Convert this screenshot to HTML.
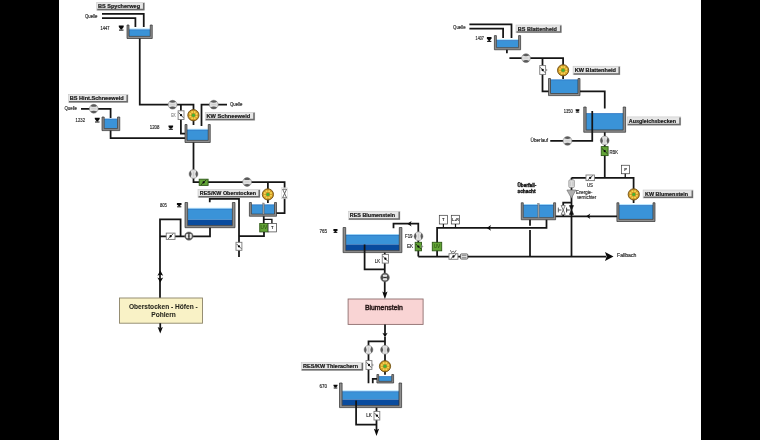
<!DOCTYPE html>
<html><head><meta charset="utf-8"><style>
html,body{margin:0;padding:0;background:#000;}
body{width:760px;height:440px;overflow:hidden;position:relative;}
#pg{position:absolute;left:59px;top:0;width:642px;height:440px;background:#fff;}
svg{position:absolute;left:0;top:0;will-change:transform;}
text{font-family:"Liberation Sans",sans-serif;}
</style></head><body>
<div id="pg"></div>
<svg width="760" height="440" viewBox="0 0 760 440">
<rect x="96.7" y="2.4" width="47.8" height="8.0" fill="#e6e6e6" stroke="#c8c8c8" stroke-width="0.6"/>
<path d="M97.2,9.6 H143.7 V2.9" fill="none" stroke="#6a6a6a" stroke-width="1.5"/>
<text x="97.9" y="8.30" font-size="5.7" font-weight="bold" fill="#1a1a1a" stroke="#1a1a1a" stroke-width="0.22" textLength="42.20" lengthAdjust="spacingAndGlyphs">BS Spycherweg</text>
<text x="85" y="18.1" font-size="5.0" font-weight="normal" fill="#222" stroke="#222" stroke-width="0.15" textLength="12.50" lengthAdjust="spacingAndGlyphs">Quelle</text>
<path d="M102,13.75 H143.75 V27" fill="none" stroke="#151515" stroke-width="1.75" stroke-linejoin="miter" stroke-linecap="butt"/>
<path d="M102,18.1 H135.4 V27" fill="none" stroke="#151515" stroke-width="1.75" stroke-linejoin="miter" stroke-linecap="butt"/>
<text x="100.6" y="30.0" font-size="4.8" font-weight="normal" fill="#222" stroke="#222" stroke-width="0.15" textLength="8.80" lengthAdjust="spacingAndGlyphs">1447</text>
<path d="M118.8,25.6 H123.7 V26.900000000000002 L121.75,29.6 H120.75 L118.8,26.900000000000002 Z" fill="#0a0a0a"/>
<rect x="119.0" y="29.6" width="4.500000000000005" height="1.0" fill="#0a0a0a"/>
<rect x="129.0" y="29.5" width="21.25" height="6.899999999999999" fill="#3a93d8"/>
<rect x="129.0" y="28.5" width="21.25" height="1.0" fill="#a8e2ff"/>
<path d="M129.0,29.8 H150.25" stroke="#2a6cbc" stroke-width="0.6"/>
<path d="M127,25 H129.0 V36.4 H150.25 V25 H152.25 V38.5 H127 Z" fill="#8e8e8e" stroke="#2e2e2e" stroke-width="0.7"/>
<path d="M139.75,38.5 V104.6 H193.5 V125" fill="none" stroke="#151515" stroke-width="1.75" stroke-linejoin="miter" stroke-linecap="butt"/>
<rect x="68.5" y="94.4" width="59.5" height="8.099999999999994" fill="#e6e6e6" stroke="#c8c8c8" stroke-width="0.6"/>
<path d="M69.0,101.7 H127.2 V94.9" fill="none" stroke="#6a6a6a" stroke-width="1.5"/>
<text x="69.75" y="100.30" font-size="5.7" font-weight="bold" fill="#1a1a1a" stroke="#1a1a1a" stroke-width="0.22" textLength="54.00" lengthAdjust="spacingAndGlyphs">BS Hint.Schneeweid</text>
<text x="64.4" y="109.6" font-size="5.0" font-weight="normal" fill="#222" stroke="#222" stroke-width="0.15" textLength="12.60" lengthAdjust="spacingAndGlyphs">Quelle</text>
<path d="M81,108.75 H110.6 V118" fill="none" stroke="#151515" stroke-width="1.75" stroke-linejoin="miter" stroke-linecap="butt"/>
<circle cx="93.75" cy="108.75" r="4.4" fill="#e0e0e0" stroke="#8a8a8a" stroke-width="0.6"/>
<path d="M90.38,105.92 A4.4,4.4 0 0 1 97.12,105.92 Q93.75,107.78 90.38,105.92 Z" fill="#5a5a5a"/>
<path d="M90.38,111.58 A4.4,4.4 0 0 0 97.12,111.58 Q93.75,109.72 90.38,111.58 Z" fill="#5a5a5a"/>
<path d="M91.33,108.75 H96.17" stroke="#bdbdbd" stroke-width="0.6"/>
<text x="75.6" y="121.5" font-size="4.8" font-weight="normal" fill="#262626" stroke="#262626" stroke-width="0.15" textLength="9.40" lengthAdjust="spacingAndGlyphs">1232</text>
<path d="M94.8,117.8 H99.7 V119.1 L97.75,121.5 H96.75 L94.8,119.1 Z" fill="#0a0a0a"/>
<rect x="95.0" y="121.5" width="4.500000000000005" height="1.0" fill="#0a0a0a"/>
<rect x="104.2" y="118.8" width="13.349999999999994" height="9.799999999999997" fill="#3a93d8"/>
<path d="M104.2,119.1 H117.55" stroke="#2a6cbc" stroke-width="0.6"/>
<path d="M102,117 H104.2 V128.6 H117.55 V117 H119.75 V130.6 H102 Z" fill="#8e8e8e" stroke="#2e2e2e" stroke-width="0.7"/>
<path d="M110.6,130.6 V138 H185.5" fill="none" stroke="#151515" stroke-width="1.75" stroke-linejoin="miter" stroke-linecap="butt"/>
<path d="M180.9,104.6 V133.6 H186" fill="none" stroke="#151515" stroke-width="1.75" stroke-linejoin="miter" stroke-linecap="butt"/>
<rect x="178.1" y="110.8" width="5.900000000000006" height="8.700000000000003" fill="#ffffff" stroke="#7a7a7a" stroke-width="0.9"/>
<path d="M178.7,112.53999999999999 L183.4,117.76" stroke="#111" stroke-width="0.7"/>
<circle cx="181.05" cy="115.15" r="1.15" fill="#0a0a0a"/>
<text x="171.3" y="117.0" font-size="4.8" font-weight="normal" fill="#808080" stroke="#808080" stroke-width="0.15" textLength="4.30" lengthAdjust="spacingAndGlyphs">EK</text>
<circle cx="172.6" cy="104.7" r="4.4" fill="#e0e0e0" stroke="#8a8a8a" stroke-width="0.6"/>
<path d="M169.23,101.87 A4.4,4.4 0 0 1 175.97,101.87 Q172.6,103.73 169.23,101.87 Z" fill="#5a5a5a"/>
<path d="M169.23,107.53 A4.4,4.4 0 0 0 175.97,107.53 Q172.6,105.67 169.23,107.53 Z" fill="#5a5a5a"/>
<path d="M170.18,104.7 H175.01999999999998" stroke="#bdbdbd" stroke-width="0.6"/>
<circle cx="193.4" cy="115.2" r="5.6" fill="#cf9426" stroke="#6e5010" stroke-width="0.9"/>
<circle cx="196.50" cy="116.49" r="1.06" fill="#f4d850"/>
<circle cx="194.69" cy="118.30" r="1.06" fill="#f4d850"/>
<circle cx="192.11" cy="118.30" r="1.06" fill="#f4d850"/>
<circle cx="190.30" cy="116.49" r="1.06" fill="#f4d850"/>
<circle cx="190.30" cy="113.91" r="1.06" fill="#f4d850"/>
<circle cx="192.11" cy="112.10" r="1.06" fill="#f4d850"/>
<circle cx="194.69" cy="112.10" r="1.06" fill="#f4d850"/>
<circle cx="196.50" cy="113.91" r="1.06" fill="#f4d850"/>
<circle cx="193.4" cy="115.2" r="1.68" fill="#48b034"/>
<path d="M201.5,126 V104.6 H227" fill="none" stroke="#151515" stroke-width="1.75" stroke-linejoin="miter" stroke-linecap="butt"/>
<circle cx="213.75" cy="104.6" r="4.4" fill="#e0e0e0" stroke="#8a8a8a" stroke-width="0.6"/>
<path d="M210.38,101.77 A4.4,4.4 0 0 1 217.12,101.77 Q213.75,103.63 210.38,101.77 Z" fill="#5a5a5a"/>
<path d="M210.38,107.43 A4.4,4.4 0 0 0 217.12,107.43 Q213.75,105.57 210.38,107.43 Z" fill="#5a5a5a"/>
<path d="M211.33,104.6 H216.17" stroke="#bdbdbd" stroke-width="0.6"/>
<text x="230" y="105.6" font-size="5.0" font-weight="normal" fill="#222" stroke="#222" stroke-width="0.15" textLength="12.50" lengthAdjust="spacingAndGlyphs">Quelle</text>
<rect x="205.2" y="112.3" width="49.60000000000002" height="8.0" fill="#e6e6e6" stroke="#c8c8c8" stroke-width="0.6"/>
<path d="M205.7,119.5 H254.0 V112.8" fill="none" stroke="#6a6a6a" stroke-width="1.5"/>
<text x="206.5" y="118.20" font-size="5.7" font-weight="bold" fill="#1a1a1a" stroke="#1a1a1a" stroke-width="0.22" textLength="43.70" lengthAdjust="spacingAndGlyphs">KW Schneeweid</text>
<text x="149.75" y="129.4" font-size="4.8" font-weight="normal" fill="#262626" stroke="#262626" stroke-width="0.15" textLength="9.65" lengthAdjust="spacingAndGlyphs">1208</text>
<path d="M168.5,125.6 H173.1 V126.89999999999999 L171.3,128.8 H170.3 L168.5,126.89999999999999 Z" fill="#0a0a0a"/>
<rect x="168.7" y="128.8" width="4.199999999999994" height="1.0" fill="#0a0a0a"/>
<rect x="187.0" y="129.8" width="21.25" height="10.599999999999994" fill="#3a93d8"/>
<rect x="187.0" y="128.8" width="21.25" height="1.0" fill="#a8e2ff"/>
<path d="M187.0,130.10000000000002 H208.25" stroke="#2a6cbc" stroke-width="0.6"/>
<path d="M185,124.5 H187.0 V140.4 H208.25 V124.5 H210.25 V142.5 H185 Z" fill="#8e8e8e" stroke="#2e2e2e" stroke-width="0.7"/>
<path d="M193.5,142.5 V182 H284.6 V213.1 H275" fill="none" stroke="#151515" stroke-width="1.75" stroke-linejoin="miter" stroke-linecap="butt"/>
<circle cx="193.5" cy="174" r="4.4" fill="#e0e0e0" stroke="#8a8a8a" stroke-width="0.6"/>
<path d="M190.67,170.63 A4.4,4.4 0 0 0 190.67,177.37 Q192.53,174 190.67,170.63 Z" fill="#5a5a5a"/>
<path d="M196.33,170.63 A4.4,4.4 0 0 1 196.33,177.37 Q194.47,174 196.33,170.63 Z" fill="#5a5a5a"/>
<path d="M193.5,171.58 V176.42" stroke="#bdbdbd" stroke-width="0.6"/>
<rect x="199.2" y="179.2" width="8.900000000000006" height="6.200000000000017" fill="#62a436" stroke="#2f5a18" stroke-width="0.9"/>
<path d="M200.98,184.8 L206.32,179.79999999999998" stroke="#111" stroke-width="0.7"/>
<circle cx="203.64999999999998" cy="182.3" r="1.15" fill="#0a0a0a"/>
<circle cx="247.1" cy="182" r="4.4" fill="#e0e0e0" stroke="#8a8a8a" stroke-width="0.6"/>
<path d="M243.73,179.17 A4.4,4.4 0 0 1 250.47,179.17 Q247.1,181.03 243.73,179.17 Z" fill="#5a5a5a"/>
<path d="M243.73,184.83 A4.4,4.4 0 0 0 250.47,184.83 Q247.1,182.97 243.73,184.83 Z" fill="#5a5a5a"/>
<path d="M244.68,182 H249.51999999999998" stroke="#bdbdbd" stroke-width="0.6"/>
<path d="M267.9,182 V203" fill="none" stroke="#151515" stroke-width="1.75" stroke-linejoin="miter" stroke-linecap="butt"/>
<circle cx="267.9" cy="194.4" r="5.6" fill="#cf9426" stroke="#6e5010" stroke-width="0.9"/>
<circle cx="271.00" cy="195.69" r="1.06" fill="#f4d850"/>
<circle cx="269.19" cy="197.50" r="1.06" fill="#f4d850"/>
<circle cx="266.61" cy="197.50" r="1.06" fill="#f4d850"/>
<circle cx="264.80" cy="195.69" r="1.06" fill="#f4d850"/>
<circle cx="264.80" cy="193.11" r="1.06" fill="#f4d850"/>
<circle cx="266.61" cy="191.30" r="1.06" fill="#f4d850"/>
<circle cx="269.19" cy="191.30" r="1.06" fill="#f4d850"/>
<circle cx="271.00" cy="193.11" r="1.06" fill="#f4d850"/>
<circle cx="267.9" cy="194.4" r="1.68" fill="#48b034"/>
<rect x="281.6" y="187.8" width="6" height="11" fill="#fff" stroke="#d0d0d0" stroke-width="0.5"/>
<path d="M282.6,189.2 H286.6 L284.6,193.5 L286.6,197.8 H282.6 L284.6,193.5 Z" fill="#fff" stroke="#333" stroke-width="0.7" stroke-linejoin="round"/>
<rect x="198" y="189.4" width="62" height="8.099999999999994" fill="#e6e6e6" stroke="#c8c8c8" stroke-width="0.6"/>
<path d="M198.5,196.7 H259.2 V189.9" fill="none" stroke="#6a6a6a" stroke-width="1.5"/>
<text x="199.75" y="195.30" font-size="5.7" font-weight="bold" fill="#1a1a1a" stroke="#1a1a1a" stroke-width="0.22" textLength="56.25" lengthAdjust="spacingAndGlyphs">RES/KW Oberstocken</text>
<path d="M209.75,202.2 V198.9 H239 V257" fill="none" stroke="#151515" stroke-width="1.75" stroke-linejoin="miter" stroke-linecap="butt"/>
<rect x="236.0" y="242.3" width="5.900000000000006" height="8.0" fill="#ffffff" stroke="#7a7a7a" stroke-width="0.9"/>
<path d="M236.6,243.9 L241.3,248.70000000000002" stroke="#111" stroke-width="0.7"/>
<circle cx="238.95" cy="246.3" r="1.15" fill="#0a0a0a"/>
<text x="160" y="206.8" font-size="4.8" font-weight="normal" fill="#262626" stroke="#262626" stroke-width="0.15" textLength="6.90" lengthAdjust="spacingAndGlyphs">805</text>
<path d="M176.9,203 H181.5 V204.3 L179.7,206.3 H178.7 L176.9,204.3 Z" fill="#0a0a0a"/>
<rect x="177.1" y="206.3" width="4.199999999999994" height="1.0" fill="#0a0a0a"/>
<rect x="187.6" y="208.8" width="44.80000000000001" height="10.899999999999977" fill="#3a93d8"/>
<rect x="187.6" y="219.7" width="44.80000000000001" height="5.900000000000006" fill="#094b9e"/>
<rect x="187.6" y="207.8" width="44.80000000000001" height="1.0" fill="#a8e2ff"/>
<path d="M187.6,209.10000000000002 H232.4" stroke="#2a6cbc" stroke-width="0.6"/>
<path d="M185,202.5 H187.6 V225.6 H232.4 V202.5 H235 V227.7 H185 Z" fill="#8e8e8e" stroke="#2e2e2e" stroke-width="0.7"/>
<rect x="251.4" y="204.6" width="23.099999999999994" height="9.550000000000011" fill="#3a93d8"/>
<path d="M251.4,204.9 H274.5" stroke="#2a6cbc" stroke-width="0.6"/>
<path d="M249.4,202.5 H251.4 V214.15 H274.5 V202.5 H276.5 V216.25 H249.4 Z" fill="#8e8e8e" stroke="#2e2e2e" stroke-width="0.7"/>
<rect x="262.8" y="203.0" width="1.4" height="11.150000000000006" fill="#9a9a9a" stroke="#555" stroke-width="0.3"/>
<path d="M263.75,216.25 V223.5" fill="none" stroke="#151515" stroke-width="1.75" stroke-linejoin="miter" stroke-linecap="butt"/>
<path d="M263.75,219.4 H271.9 V223.5" fill="none" stroke="#151515" stroke-width="1.4" stroke-linejoin="miter" stroke-linecap="butt"/>
<rect x="259.75" y="223.5" width="8.350000000000023" height="8.400000000000006" fill="#62a436" stroke="#2f5a18" stroke-width="0.9"/>
<text x="263.9" y="229.3" font-size="4.8" font-weight="normal" fill="#2a4a10" text-anchor="middle">UV</text>
<rect x="268.1" y="223.5" width="8.399999999999977" height="8.400000000000006" fill="#ffffff" stroke="#3a3a3a" stroke-width="0.7"/>
<text x="272.3" y="229.21" font-size="4.2" font-weight="bold" fill="#111" text-anchor="middle">T</text>
<path d="M264,231.9 V236 H239" fill="none" stroke="#151515" stroke-width="1.75" stroke-linejoin="miter" stroke-linecap="butt"/>
<path d="M210,227.7 V236.25 H160" fill="none" stroke="#151515" stroke-width="1.75" stroke-linejoin="miter" stroke-linecap="butt"/>
<circle cx="188.9" cy="236.1" r="4.2" fill="#4a4a4a" stroke="#777" stroke-width="0.5"/>
<ellipse cx="187.20000000000002" cy="236.1" rx="1.3" ry="2.3" fill="#e4e4e4"/>
<ellipse cx="190.6" cy="236.1" rx="1.3" ry="2.3" fill="#e4e4e4"/>
<circle cx="188.9" cy="236.1" r="0.8" fill="#222"/>
<path d="M180.6,236.25 V219.4 H160 V298" fill="none" stroke="#151515" stroke-width="1.75" stroke-linejoin="miter" stroke-linecap="butt"/>
<rect x="166.25" y="233.1" width="8.75" height="6.300000000000011" fill="#ffffff" stroke="#7a7a7a" stroke-width="0.9"/>
<path d="M168.0,238.8 L173.25,233.7" stroke="#111" stroke-width="0.7"/>
<circle cx="170.625" cy="236.25" r="1.15" fill="#0a0a0a"/>
<path d="M157.4,275.7 L160.3,274.4 L163.20000000000002,275.7 L160.3,270.6 Z" fill="#0a0a0a"/>
<path d="M157.4,277.5 L160.3,278.8 L163.20000000000002,277.5 L160.3,282.6 Z" fill="#0a0a0a"/>
<rect x="119.5" y="298" width="83" height="25.2" fill="#f9f2c6" stroke="#8c8468" stroke-width="0.9"/>
<text x="128.9" y="309.2" font-size="6.7" font-weight="bold" fill="#25251c" stroke="#25251c" stroke-width="0.05" textLength="68.80" lengthAdjust="spacingAndGlyphs">Oberstocken - Höfen -</text>
<text x="151.3" y="317.0" font-size="6.7" font-weight="bold" fill="#25251c" stroke="#25251c" stroke-width="0.05" textLength="24.60" lengthAdjust="spacingAndGlyphs">Pohlern</text>
<path d="M160.25,323.2 V328" fill="none" stroke="#151515" stroke-width="1.75" stroke-linejoin="miter" stroke-linecap="butt"/>
<path d="M157.65,327.0 L160.25,328.3 L162.85,327.0 L160.25,333.5 Z" fill="#0a0a0a"/>
<text x="453.1" y="29.1" font-size="5.0" font-weight="normal" fill="#222" stroke="#222" stroke-width="0.15" textLength="12.50" lengthAdjust="spacingAndGlyphs">Quelle</text>
<path d="M469.4,24.4 H511.5 V38" fill="none" stroke="#151515" stroke-width="1.75" stroke-linejoin="miter" stroke-linecap="butt"/>
<path d="M469.4,28.5 H503.1 V38" fill="none" stroke="#151515" stroke-width="1.75" stroke-linejoin="miter" stroke-linecap="butt"/>
<text x="475.6" y="40.3" font-size="4.8" font-weight="normal" fill="#262626" stroke="#262626" stroke-width="0.15" textLength="8.15" lengthAdjust="spacingAndGlyphs">1407</text>
<path d="M486.9,36.9 H491.5 V38.199999999999996 L489.7,40.9 H488.7 L486.9,38.199999999999996 Z" fill="#0a0a0a"/>
<rect x="487.09999999999997" y="40.9" width="4.200000000000022" height="1.0" fill="#0a0a0a"/>
<rect x="496.4" y="40.2" width="22.200000000000045" height="7.449999999999996" fill="#3a93d8"/>
<rect x="496.4" y="39.2" width="22.200000000000045" height="1.0" fill="#a8e2ff"/>
<path d="M496.4,40.5 H518.6" stroke="#2a6cbc" stroke-width="0.6"/>
<path d="M494.4,35.6 H496.4 V47.65 H518.6 V35.6 H520.6 V49.75 H494.4 Z" fill="#8e8e8e" stroke="#2e2e2e" stroke-width="0.7"/>
<path d="M506.9,49.75 V53.3" fill="none" stroke="#151515" stroke-width="1.75" stroke-linejoin="miter" stroke-linecap="butt"/>
<rect x="516" y="25" width="45.5" height="7.75" fill="#e6e6e6" stroke="#c8c8c8" stroke-width="0.6"/>
<path d="M516.5,31.95 H560.7 V25.5" fill="none" stroke="#6a6a6a" stroke-width="1.5"/>
<text x="517.75" y="30.90" font-size="5.7" font-weight="bold" fill="#1a1a1a" stroke="#1a1a1a" stroke-width="0.22" textLength="39.15" lengthAdjust="spacingAndGlyphs">BS Blattenheid</text>
<path d="M509.4,58.1 H563.1 V79" fill="none" stroke="#151515" stroke-width="1.75" stroke-linejoin="miter" stroke-linecap="butt"/>
<circle cx="526" cy="58.1" r="4.4" fill="#e0e0e0" stroke="#8a8a8a" stroke-width="0.6"/>
<path d="M522.63,55.27 A4.4,4.4 0 0 1 529.37,55.27 Q526,57.13 522.63,55.27 Z" fill="#5a5a5a"/>
<path d="M522.63,60.93 A4.4,4.4 0 0 0 529.37,60.93 Q526,59.07 522.63,60.93 Z" fill="#5a5a5a"/>
<path d="M523.58,58.1 H528.42" stroke="#bdbdbd" stroke-width="0.6"/>
<circle cx="563.1" cy="70.25" r="5.6" fill="#cf9426" stroke="#6e5010" stroke-width="0.9"/>
<circle cx="566.20" cy="71.54" r="1.06" fill="#f4d850"/>
<circle cx="564.39" cy="73.35" r="1.06" fill="#f4d850"/>
<circle cx="561.81" cy="73.35" r="1.06" fill="#f4d850"/>
<circle cx="560.00" cy="71.54" r="1.06" fill="#f4d850"/>
<circle cx="560.00" cy="68.96" r="1.06" fill="#f4d850"/>
<circle cx="561.81" cy="67.15" r="1.06" fill="#f4d850"/>
<circle cx="564.39" cy="67.15" r="1.06" fill="#f4d850"/>
<circle cx="566.20" cy="68.96" r="1.06" fill="#f4d850"/>
<circle cx="563.1" cy="70.25" r="1.68" fill="#48b034"/>
<path d="M542.5,58.1 V91.25 H549" fill="none" stroke="#151515" stroke-width="1.75" stroke-linejoin="miter" stroke-linecap="butt"/>
<rect x="539.75" y="65.6" width="5.850000000000023" height="8.800000000000011" fill="#ffffff" stroke="#7a7a7a" stroke-width="0.9"/>
<path d="M540.35,67.36 L545.0,72.64" stroke="#111" stroke-width="0.7"/>
<circle cx="542.675" cy="70.0" r="1.15" fill="#0a0a0a"/>
<path d="M545.6,68.2 L547.6,70.0 L545.6,71.8 Z" fill="#9a9a9a"/>
<rect x="573.1" y="66.25" width="46.89999999999998" height="8.5" fill="#e6e6e6" stroke="#c8c8c8" stroke-width="0.6"/>
<path d="M573.6,73.95 H619.2 V66.75" fill="none" stroke="#6a6a6a" stroke-width="1.5"/>
<text x="574.75" y="72.15" font-size="5.7" font-weight="bold" fill="#1a1a1a" stroke="#1a1a1a" stroke-width="0.22" textLength="41.25" lengthAdjust="spacingAndGlyphs">KW Blattenheid</text>
<rect x="550.5" y="79.6" width="27.5" height="13.900000000000006" fill="#3a93d8"/>
<path d="M550.5,79.89999999999999 H578.0" stroke="#2a6cbc" stroke-width="0.6"/>
<path d="M548.5,78.5 H550.5 V93.5 H578.0 V78.5 H580 V95.6 H548.5 Z" fill="#8e8e8e" stroke="#2e2e2e" stroke-width="0.7"/>
<path d="M580,91.25 H604.75 V108.5" fill="none" stroke="#151515" stroke-width="1.75" stroke-linejoin="miter" stroke-linecap="butt"/>
<rect x="586.15" y="113.3" width="37.05000000000007" height="16.64999999999999" fill="#3a93d8"/>
<path d="M586.15,113.6 H623.2" stroke="#2a6cbc" stroke-width="0.6"/>
<path d="M583.75,107 H586.15 V129.95 H623.2 V107 H625.6 V132.25 H583.75 Z" fill="#8e8e8e" stroke="#2e2e2e" stroke-width="0.7"/>
<text x="563.75" y="112.5" font-size="4.8" font-weight="normal" fill="#262626" stroke="#262626" stroke-width="0.15" textLength="9.00" lengthAdjust="spacingAndGlyphs">1350</text>
<path d="M575.6,109.2 H579.4 V110.5 L578.0,111.6 H577.0 L575.6,110.5 Z" fill="#0a0a0a"/>
<rect x="575.8000000000001" y="111.6" width="3.3999999999999546" height="1.0" fill="#0a0a0a"/>
<path d="M592.25,111 V140.9 H550.25" fill="none" stroke="#151515" stroke-width="1.75" stroke-linejoin="miter" stroke-linecap="butt"/>
<circle cx="567.5" cy="140.9" r="4.4" fill="#e0e0e0" stroke="#8a8a8a" stroke-width="0.6"/>
<path d="M564.13,138.07 A4.4,4.4 0 0 1 570.87,138.07 Q567.5,139.93 564.13,138.07 Z" fill="#5a5a5a"/>
<path d="M564.13,143.73 A4.4,4.4 0 0 0 570.87,143.73 Q567.5,141.87 564.13,143.73 Z" fill="#5a5a5a"/>
<path d="M565.08,140.9 H569.92" stroke="#bdbdbd" stroke-width="0.6"/>
<text x="530.6" y="142.2" font-size="5.0" font-weight="normal" fill="#222" stroke="#222" stroke-width="0.15" textLength="17.50" lengthAdjust="spacingAndGlyphs">Überlauf</text>
<path d="M604.75,132.25 V177.75" fill="none" stroke="#151515" stroke-width="1.75" stroke-linejoin="miter" stroke-linecap="butt"/>
<circle cx="604.75" cy="140.5" r="4.4" fill="#e0e0e0" stroke="#8a8a8a" stroke-width="0.6"/>
<path d="M601.92,137.13 A4.4,4.4 0 0 0 601.92,143.87 Q603.78,140.5 601.92,137.13 Z" fill="#5a5a5a"/>
<path d="M607.58,137.13 A4.4,4.4 0 0 1 607.58,143.87 Q605.72,140.5 607.58,137.13 Z" fill="#5a5a5a"/>
<path d="M604.75,138.08 V142.92" stroke="#bdbdbd" stroke-width="0.6"/>
<rect x="601.25" y="146.6" width="6.850000000000023" height="9.0" fill="#62a436" stroke="#2f5a18" stroke-width="0.9"/>
<path d="M601.85,148.4 L607.5,153.79999999999998" stroke="#111" stroke-width="0.7"/>
<circle cx="604.675" cy="151.1" r="1.15" fill="#0a0a0a"/>
<text x="609.4" y="154.3" font-size="4.8" font-weight="normal" fill="#262626" stroke="#262626" stroke-width="0.15" textLength="8.60" lengthAdjust="spacingAndGlyphs">RBK</text>
<rect x="627.2" y="116.9" width="53.59999999999991" height="8.299999999999997" fill="#e6e6e6" stroke="#c8c8c8" stroke-width="0.6"/>
<path d="M627.7,124.4 H680.0 V117.4" fill="none" stroke="#6a6a6a" stroke-width="1.5"/>
<text x="628.75" y="122.80" font-size="5.7" font-weight="bold" fill="#1a1a1a" stroke="#1a1a1a" stroke-width="0.22" textLength="47.25" lengthAdjust="spacingAndGlyphs">Ausgleichsbecken</text>
<path d="M571.5,177.75 H633.6 V203" fill="none" stroke="#151515" stroke-width="1.75" stroke-linejoin="miter" stroke-linecap="butt"/>
<circle cx="633.75" cy="194.4" r="5.6" fill="#cf9426" stroke="#6e5010" stroke-width="0.9"/>
<circle cx="636.85" cy="195.69" r="1.06" fill="#f4d850"/>
<circle cx="635.04" cy="197.50" r="1.06" fill="#f4d850"/>
<circle cx="632.46" cy="197.50" r="1.06" fill="#f4d850"/>
<circle cx="630.65" cy="195.69" r="1.06" fill="#f4d850"/>
<circle cx="630.65" cy="193.11" r="1.06" fill="#f4d850"/>
<circle cx="632.46" cy="191.30" r="1.06" fill="#f4d850"/>
<circle cx="635.04" cy="191.30" r="1.06" fill="#f4d850"/>
<circle cx="636.85" cy="193.11" r="1.06" fill="#f4d850"/>
<circle cx="633.75" cy="194.4" r="1.68" fill="#48b034"/>
<rect x="586" y="175" width="8.399999999999977" height="5.599999999999994" fill="#ffffff" stroke="#7a7a7a" stroke-width="0.9"/>
<path d="M587.68,180.0 L592.72,175.6" stroke="#111" stroke-width="0.7"/>
<circle cx="590.2" cy="177.8" r="1.15" fill="#0a0a0a"/>
<text x="586.9" y="187.1" font-size="4.8" font-weight="normal" fill="#262626" stroke="#262626" stroke-width="0.15" textLength="6.10" lengthAdjust="spacingAndGlyphs">US</text>
<rect x="621.5" y="165.25" width="8.100000000000023" height="8.5" fill="#ffffff" stroke="#3a3a3a" stroke-width="0.7"/>
<text x="625.55" y="171.01" font-size="4.2" font-weight="bold" fill="#111" text-anchor="middle">P</text>
<path d="M625.25,173.75 V177.75" fill="none" stroke="#151515" stroke-width="1.3" stroke-linejoin="miter" stroke-linecap="butt"/>
<path d="M571.5,177.75 V256.5" fill="none" stroke="#151515" stroke-width="1.75" stroke-linejoin="miter" stroke-linecap="butt"/>
<rect x="568.8" y="179.8" width="5.6" height="7.8" rx="1.2" fill="#dedede" stroke="#777" stroke-width="0.6"/>
<path d="M570.3,181.5 V186 M572.9,181.5 V186" stroke="#aaa" stroke-width="0.5"/>
<path d="M566.9,190 L575.9,190 L571.4,198.2 Z" fill="#b0b0b0" stroke="#666" stroke-width="0.6"/>
<text x="576" y="194.1" font-size="5.0" font-weight="normal" fill="#262626" stroke="#262626" stroke-width="0.15" textLength="16.50" lengthAdjust="spacingAndGlyphs">Energie-</text>
<text x="576.9" y="199.1" font-size="5.0" font-weight="normal" fill="#262626" stroke="#262626" stroke-width="0.15" textLength="19.35" lengthAdjust="spacingAndGlyphs">vernichter</text>
<path d="M571.5,202.7 H563.2 V216.3" fill="none" stroke="#151515" stroke-width="1.75" stroke-linejoin="miter" stroke-linecap="butt"/>
<path d="M569.5,205.6 H573.5 L571.5,210.0 L573.5,214.4 H569.5 L571.5,210.0 Z" fill="#111" stroke="#111" stroke-width="0.7" stroke-linejoin="round"/>
<path d="M566.6,207.6 V212.4 M566.6,210 H569.8" stroke="#111" stroke-width="0.8"/>
<rect x="560.6" y="205" width="5.2" height="10" fill="#fff"/>
<path d="M561.2,205.6 H565.2 L563.2,210.0 L565.2,214.4 H561.2 L563.2,210.0 Z" fill="#fff" stroke="#444" stroke-width="0.7" stroke-linejoin="round"/>
<path d="M558.3,207.6 V212.4 M558.3,210 H561.4" stroke="#333" stroke-width="0.8"/>
<rect x="643.1" y="190" width="50.0" height="8.099999999999994" fill="#e6e6e6" stroke="#c8c8c8" stroke-width="0.6"/>
<path d="M643.6,197.29999999999998 H692.3000000000001 V190.5" fill="none" stroke="#6a6a6a" stroke-width="1.5"/>
<text x="645" y="195.90" font-size="5.7" font-weight="bold" fill="#1a1a1a" stroke="#1a1a1a" stroke-width="0.22" textLength="43.10" lengthAdjust="spacingAndGlyphs">KW Blumenstein</text>
<rect x="618.9" y="205.2" width="34.10000000000002" height="14.200000000000017" fill="#3a93d8"/>
<rect x="618.9" y="204.2" width="34.10000000000002" height="1.0" fill="#a8e2ff"/>
<path d="M618.9,205.5 H653.0" stroke="#2a6cbc" stroke-width="0.6"/>
<path d="M616.9,202.75 H618.9 V219.4 H653.0 V202.75 H655 V221.5 H616.9 Z" fill="#8e8e8e" stroke="#2e2e2e" stroke-width="0.7"/>
<path d="M617,216.25 H555.2" fill="none" stroke="#151515" stroke-width="1.75" stroke-linejoin="miter" stroke-linecap="butt"/>
<path d="M586.3,216.25 L590.3,213.45 L589.1,216.25 L590.3,219.05 Z" fill="#0a0a0a"/>
<text x="517.5" y="187.0" font-size="4.8" font-weight="bold" fill="#111" stroke="#111" stroke-width="0.35" textLength="18.75" lengthAdjust="spacingAndGlyphs">Überfall-</text>
<text x="517.5" y="193.2" font-size="4.8" font-weight="bold" fill="#111" stroke="#111" stroke-width="0.35" textLength="18.10" lengthAdjust="spacingAndGlyphs">schacht</text>
<rect x="523.25" y="205.0" width="30.350000000000023" height="12.650000000000006" fill="#3a93d8"/>
<rect x="523.25" y="204.0" width="30.350000000000023" height="1.0" fill="#a8e2ff"/>
<path d="M523.25,205.3 H553.6" stroke="#2a6cbc" stroke-width="0.6"/>
<path d="M521.25,202.75 H523.25 V217.65 H553.6 V202.75 H555.6 V219.75 H521.25 Z" fill="#8e8e8e" stroke="#2e2e2e" stroke-width="0.7"/>
<rect x="537.8" y="203.25" width="1.4" height="14.400000000000006" fill="#9a9a9a" stroke="#555" stroke-width="0.3"/>
<path d="M530,219.75 V225.8" fill="none" stroke="#151515" stroke-width="1.75" stroke-linejoin="miter" stroke-linecap="butt"/>
<path d="M530,230.0 V256.5" fill="none" stroke="#151515" stroke-width="1.75" stroke-linejoin="miter" stroke-linecap="butt"/>
<path d="M546.5,219.75 V227.9 H437.1 V256.3" fill="none" stroke="#151515" stroke-width="1.75" stroke-linejoin="miter" stroke-linecap="butt"/>
<path d="M486.7,227.9 L491.0,225.1 L489.8,227.9 L491.0,230.70000000000002 Z" fill="#0a0a0a"/>
<rect x="439.3" y="215.3" width="8.199999999999989" height="8.699999999999989" fill="#ffffff" stroke="#3a3a3a" stroke-width="0.7"/>
<text x="443.4" y="221.16" font-size="4.2" font-weight="bold" fill="#111" text-anchor="middle">T</text>
<rect x="451.3" y="215.3" width="8.300000000000011" height="8.699999999999989" fill="#ffffff" stroke="#3a3a3a" stroke-width="0.7"/>
<text x="455.45000000000005" y="220.95" font-size="3.6" font-weight="bold" fill="#111" text-anchor="middle">L+R</text>
<path d="M443.4,224 V227.9" fill="none" stroke="#151515" stroke-width="1.2" stroke-linejoin="miter" stroke-linecap="butt"/>
<path d="M455.5,224 V227.9" fill="none" stroke="#151515" stroke-width="1.2" stroke-linejoin="miter" stroke-linecap="butt"/>
<rect x="432.3" y="242.3" width="9.399999999999977" height="8.5" fill="#62a436" stroke="#2f5a18" stroke-width="0.9"/>
<text x="437" y="248.2" font-size="4.8" font-weight="normal" fill="#2a4a10" text-anchor="middle">UV</text>
<path d="M418.3,256.5 H606" fill="none" stroke="#151515" stroke-width="1.75" stroke-linejoin="miter" stroke-linecap="butt"/>
<path d="M605.0,252.0 L613.5,256.5 L605.0,261.0 L606.6,256.5 Z" fill="#0a0a0a"/>
<text x="617" y="257.0" font-size="5.0" font-weight="normal" fill="#222" stroke="#222" stroke-width="0.15" textLength="19.40" lengthAdjust="spacingAndGlyphs">Fallbach</text>
<rect x="449" y="253.7" width="8.899999999999977" height="5.600000000000023" fill="#ffffff" stroke="#7a7a7a" stroke-width="0.9"/>
<path d="M450.78,258.7 L456.12,254.29999999999998" stroke="#111" stroke-width="0.7"/>
<circle cx="453.45" cy="256.5" r="1.15" fill="#0a0a0a"/>
<path d="M450.4,250.2 L451.6,252.6 L453.2,251.0 L454.8,252.6 L456.2,250.2 M453.2,252.8 V253.8" fill="none" stroke="#333" stroke-width="0.7"/>
<rect x="460.4" y="253.9" width="7.4" height="5.2" rx="1" fill="#e0e0e0" stroke="#333" stroke-width="0.7"/>
<path d="M461.8,255.4 H466.4 M461.8,257.6 H466.4" stroke="#555" stroke-width="0.6"/>
<path d="M418.3,256.5 V223.7 H393.5 V228.3" fill="none" stroke="#151515" stroke-width="1.75" stroke-linejoin="miter" stroke-linecap="butt"/>
<path d="M407.3,223.7 L411.6,220.89999999999998 L410.40000000000003,223.7 L411.6,226.5 Z" fill="#0a0a0a"/>
<circle cx="418.5" cy="236.25" r="4.4" fill="#e0e0e0" stroke="#8a8a8a" stroke-width="0.6"/>
<path d="M415.67,232.88 A4.4,4.4 0 0 0 415.67,239.62 Q417.53,236.25 415.67,232.88 Z" fill="#5a5a5a"/>
<path d="M421.33,232.88 A4.4,4.4 0 0 1 421.33,239.62 Q419.47,236.25 421.33,232.88 Z" fill="#5a5a5a"/>
<path d="M418.5,233.83 V238.67" stroke="#bdbdbd" stroke-width="0.6"/>
<rect x="415.2" y="242.3" width="6.300000000000011" height="8.5" fill="#62a436" stroke="#2f5a18" stroke-width="0.9"/>
<path d="M415.8,244.0 L420.9,249.10000000000002" stroke="#111" stroke-width="0.7"/>
<circle cx="418.35" cy="246.55" r="1.15" fill="#0a0a0a"/>
<path d="M421.5,244.75 L423.5,246.55 L421.5,248.35000000000002 Z" fill="#9a9a9a"/>
<text x="405" y="238.0" font-size="4.8" font-weight="normal" fill="#262626" stroke="#262626" stroke-width="0.15" textLength="7.50" lengthAdjust="spacingAndGlyphs">F19</text>
<text x="406.9" y="247.8" font-size="4.8" font-weight="normal" fill="#262626" stroke="#262626" stroke-width="0.15" textLength="6.20" lengthAdjust="spacingAndGlyphs">EK</text>
<rect x="348.5" y="211.25" width="51.5" height="8.5" fill="#e6e6e6" stroke="#c8c8c8" stroke-width="0.6"/>
<path d="M349.0,218.95 H399.2 V211.75" fill="none" stroke="#6a6a6a" stroke-width="1.5"/>
<text x="349.75" y="217.15" font-size="5.7" font-weight="bold" fill="#1a1a1a" stroke="#1a1a1a" stroke-width="0.22" textLength="45.25" lengthAdjust="spacingAndGlyphs">RES Blumenstein</text>
<text x="319.4" y="232.5" font-size="4.8" font-weight="normal" fill="#262626" stroke="#262626" stroke-width="0.15" textLength="7.60" lengthAdjust="spacingAndGlyphs">765</text>
<path d="M333.4,229.0 H337.5 V230.3 L335.95,231.9 H334.95 L333.4,230.3 Z" fill="#0a0a0a"/>
<rect x="333.59999999999997" y="231.9" width="3.700000000000023" height="1.0" fill="#0a0a0a"/>
<rect x="345.70000000000005" y="235.0" width="53.59999999999991" height="9.400000000000006" fill="#3a93d8"/>
<rect x="345.70000000000005" y="244.4" width="53.59999999999991" height="6.199999999999989" fill="#094b9e"/>
<rect x="345.70000000000005" y="234.0" width="53.59999999999991" height="1.0" fill="#a8e2ff"/>
<path d="M345.70000000000005,235.3 H399.29999999999995" stroke="#2a6cbc" stroke-width="0.6"/>
<path d="M343.1,227.5 H345.70000000000005 V250.6 H399.29999999999995 V227.5 H401.9 V252.6 H343.1 Z" fill="#8e8e8e" stroke="#2e2e2e" stroke-width="0.7"/>
<path d="M364.6,244.4 V269.4 H384.75" fill="none" stroke="#151515" stroke-width="1.75" stroke-linejoin="miter" stroke-linecap="butt"/>
<path d="M384.75,252.6 V295" fill="none" stroke="#151515" stroke-width="1.75" stroke-linejoin="miter" stroke-linecap="butt"/>
<rect x="382.25" y="254.4" width="6.25" height="8.700000000000017" fill="#ffffff" stroke="#7a7a7a" stroke-width="0.9"/>
<path d="M382.85,256.14 L387.9,261.36" stroke="#111" stroke-width="0.7"/>
<circle cx="385.375" cy="258.75" r="1.15" fill="#0a0a0a"/>
<text x="374.75" y="263.0" font-size="4.8" font-weight="normal" fill="#262626" stroke="#262626" stroke-width="0.15" textLength="5.25" lengthAdjust="spacingAndGlyphs">LK</text>
<circle cx="385.0" cy="277.5" r="4.4" fill="#4a4a4a" stroke="#777" stroke-width="0.5"/>
<ellipse cx="385.0" cy="275.8" rx="2.3" ry="1.3" fill="#e4e4e4"/>
<ellipse cx="385.0" cy="279.2" rx="2.3" ry="1.3" fill="#e4e4e4"/>
<circle cx="385.0" cy="277.5" r="0.8" fill="#222"/>
<path d="M382.29999999999995,291.59999999999997 L384.9,292.9 L387.5,291.59999999999997 L384.9,299.2 Z" fill="#0a0a0a"/>
<rect x="348.1" y="299" width="75" height="25.4" fill="#f9d4d4" stroke="#8e6e6e" stroke-width="0.9"/>
<text x="364.9" y="309.5" font-size="7.0" font-weight="normal" fill="#2a1a1a" stroke="#2a1a1a" stroke-width="0.45" textLength="38.00" lengthAdjust="spacingAndGlyphs">Blumenstein</text>
<path d="M385,324.4 V334" fill="none" stroke="#151515" stroke-width="1.75" stroke-linejoin="miter" stroke-linecap="butt"/>
<path d="M382.4,332.7 L385,334.0 L387.6,332.7 L385,337.6 Z" fill="#0a0a0a"/>
<path d="M385,337 V374.75" fill="none" stroke="#151515" stroke-width="1.75" stroke-linejoin="miter" stroke-linecap="butt"/>
<path d="M385,341.25 H368.5 V383.2" fill="none" stroke="#151515" stroke-width="1.75" stroke-linejoin="miter" stroke-linecap="butt"/>
<circle cx="368.5" cy="349.75" r="4.4" fill="#e0e0e0" stroke="#8a8a8a" stroke-width="0.6"/>
<path d="M365.67,346.38 A4.4,4.4 0 0 0 365.67,353.12 Q367.53,349.75 365.67,346.38 Z" fill="#5a5a5a"/>
<path d="M371.33,346.38 A4.4,4.4 0 0 1 371.33,353.12 Q369.47,349.75 371.33,346.38 Z" fill="#5a5a5a"/>
<path d="M368.5,347.33 V352.17" stroke="#bdbdbd" stroke-width="0.6"/>
<circle cx="385" cy="349.75" r="4.4" fill="#e0e0e0" stroke="#8a8a8a" stroke-width="0.6"/>
<path d="M382.17,346.38 A4.4,4.4 0 0 0 382.17,353.12 Q384.03,349.75 382.17,346.38 Z" fill="#5a5a5a"/>
<path d="M387.83,346.38 A4.4,4.4 0 0 1 387.83,353.12 Q385.97,349.75 387.83,346.38 Z" fill="#5a5a5a"/>
<path d="M385,347.33 V352.17" stroke="#bdbdbd" stroke-width="0.6"/>
<circle cx="385" cy="366.25" r="5.6" fill="#cf9426" stroke="#6e5010" stroke-width="0.9"/>
<circle cx="388.10" cy="367.54" r="1.06" fill="#f4d850"/>
<circle cx="386.29" cy="369.35" r="1.06" fill="#f4d850"/>
<circle cx="383.71" cy="369.35" r="1.06" fill="#f4d850"/>
<circle cx="381.90" cy="367.54" r="1.06" fill="#f4d850"/>
<circle cx="381.90" cy="364.96" r="1.06" fill="#f4d850"/>
<circle cx="383.71" cy="363.15" r="1.06" fill="#f4d850"/>
<circle cx="386.29" cy="363.15" r="1.06" fill="#f4d850"/>
<circle cx="388.10" cy="364.96" r="1.06" fill="#f4d850"/>
<circle cx="385" cy="366.25" r="1.68" fill="#48b034"/>
<rect x="366" y="360.6" width="5.899999999999977" height="8.799999999999955" fill="#ffffff" stroke="#7a7a7a" stroke-width="0.9"/>
<path d="M366.6,362.36 L371.29999999999995,367.64" stroke="#111" stroke-width="0.7"/>
<circle cx="368.95" cy="365.0" r="1.15" fill="#0a0a0a"/>
<path d="M371.9,363.2 L373.9,365.0 L371.9,366.8 Z" fill="#9a9a9a"/>
<rect x="301.25" y="362.5" width="61.85000000000002" height="8.100000000000023" fill="#e6e6e6" stroke="#c8c8c8" stroke-width="0.6"/>
<path d="M301.75,369.8 H362.3 V363.0" fill="none" stroke="#6a6a6a" stroke-width="1.5"/>
<text x="303.1" y="368.40" font-size="5.7" font-weight="bold" fill="#1a1a1a" stroke="#1a1a1a" stroke-width="0.22" textLength="55.00" lengthAdjust="spacingAndGlyphs">RES/KW Thierachern</text>
<rect x="378.7" y="376.3" width="13.100000000000023" height="5.099999999999966" fill="#3a93d8"/>
<path d="M378.7,376.6 H391.8" stroke="#2a6cbc" stroke-width="0.6"/>
<path d="M376.9,374.5 H378.7 V381.4 H391.8 V374.5 H393.6 V383 H376.9 Z" fill="#8e8e8e" stroke="#2e2e2e" stroke-width="0.7"/>
<path d="M372.75,383.3 V378.75 H377" fill="none" stroke="#151515" stroke-width="1.75" stroke-linejoin="miter" stroke-linecap="butt"/>
<rect x="342.1" y="391.4" width="56.89999999999998" height="8.100000000000023" fill="#3a93d8"/>
<rect x="342.1" y="399.5" width="56.89999999999998" height="6.100000000000023" fill="#094b9e"/>
<rect x="342.1" y="390.4" width="56.89999999999998" height="1.0" fill="#a8e2ff"/>
<path d="M342.1,391.7 H399.0" stroke="#2a6cbc" stroke-width="0.6"/>
<path d="M339.5,383 H342.1 V405.6 H399.0 V383 H401.6 V407.6 H339.5 Z" fill="#8e8e8e" stroke="#2e2e2e" stroke-width="0.7"/>
<text x="319.4" y="388.0" font-size="4.8" font-weight="normal" fill="#262626" stroke="#262626" stroke-width="0.15" textLength="7.50" lengthAdjust="spacingAndGlyphs">670</text>
<path d="M333.5,384.7 H337.5 V386.0 L336.0,387.5 H335.0 L333.5,386.0 Z" fill="#0a0a0a"/>
<rect x="333.7" y="387.5" width="3.6" height="1.0" fill="#0a0a0a"/>
<path d="M356.1,400.4 V424.7 H376.5" fill="none" stroke="#151515" stroke-width="1.75" stroke-linejoin="miter" stroke-linecap="butt"/>
<path d="M376.5,407.6 V431" fill="none" stroke="#151515" stroke-width="1.75" stroke-linejoin="miter" stroke-linecap="butt"/>
<rect x="374" y="411.4" width="5.800000000000011" height="8.600000000000023" fill="#ffffff" stroke="#7a7a7a" stroke-width="0.9"/>
<path d="M374.6,413.12 L379.2,418.28" stroke="#111" stroke-width="0.7"/>
<circle cx="376.9" cy="415.7" r="1.15" fill="#0a0a0a"/>
<text x="366.2" y="417.3" font-size="4.8" font-weight="normal" fill="#262626" stroke="#262626" stroke-width="0.15" textLength="5.60" lengthAdjust="spacingAndGlyphs">LK</text>
<path d="M373.9,428.7 L376.5,430.0 L379.1,428.7 L376.5,436 Z" fill="#0a0a0a"/>
</svg>
</body></html>
